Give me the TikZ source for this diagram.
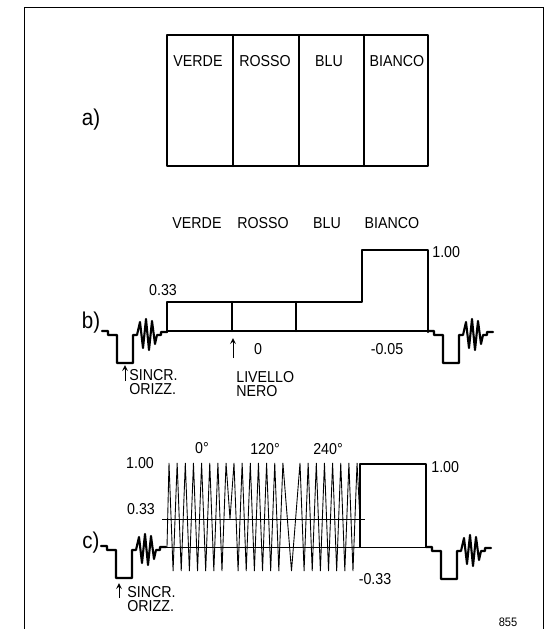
\documentclass[tikz,border=0pt]{standalone}
\usepackage{fontspec}
\setmainfont[FakeStretch=0.9]{Liberation Sans}

\tikzset{
  wave/.style={line width=1.2pt, line join=round, line cap=round},
  hsync/.pic={
    \draw[wave] (0,0) -- (6,0) -- (6,4) -- (15,4) -- (15,32) -- (31,32) -- (31,4) -- (35,4)
      -- (38,-9) -- (41,17) -- (44,-12) -- (47,19) -- (50,-10) -- (53,13) -- (55,4)
      -- (59,4) -- (59,1) -- (65,1);
  }
}

\begin{document}
\begin{tikzpicture}[x=0.02cm, y=-0.02cm, >=stealth,
    lbl/.style={inner sep=0pt, font=\fontsize{9}{8}\selectfont},
    big/.style={inner sep=0pt, font=\fontsize{13}{15}\selectfont},
    fine/.style={line width=0.5pt}]
    \useasboundingbox (0,0) rectangle (555,629);

    % frame
    \draw[fine] (24,629) -- (24,7) -- (543,7) -- (543,629);

    % a)
    \node (n_a) [big] at (91,120) {a)};
    \draw[wave] (167,35) rectangle (428,166);
    \draw[wave] (233,35) -- (233,166);
    \draw[wave] (299,35) -- (299,166);
    \draw[wave] (364,35) -- (364,166);
    \node (n_verde_a) [lbl] at (198,61) {VERDE};
    \node (n_rosso_a) [lbl] at (265,61) {ROSSO};
    \node (n_blu_a) [lbl] at (329,61) {BLU};
    \node (n_bianco_a) [lbl] at (397,61) {BIANCO};

    % b)
    \node (n_b) [big] at (91,323) {b)};
    \node (n_verde_b) [lbl] at (197,223) {VERDE};
    \node (n_rosso_b) [lbl] at (263,223) {ROSSO};
    \node (n_blu_b) [lbl] at (327,223) {BLU};
    \node (n_bianco_b) [lbl] at (392,223) {BIANCO};

    \pic at (102,331) {hsync};
    \draw[wave] (167,332) -- (167,302) -- (362,302) -- (362,250) -- (428,250) -- (428,332);
    \draw[wave] (232,302) -- (232,331);
    \draw[wave] (296,302) -- (296,331);
    \draw[line width=0.8pt] (167,331) -- (428,331);
    \pic at (428,331) {hsync};

    \node (n_033_b) [lbl] at (163,290) {0.33};
    \node (n_100_b) [lbl, anchor=west] at (432,252) {1.00};
    \node (n_zero_b) [lbl] at (258,349) {0};
    \node (n_m005_b) [lbl] at (387,349) {-0.05};
    \node (n_sincr_b) [lbl, anchor=north west, align=left] at (129,369) {SINCR.\\ORIZZ.};
    \node (n_nero_b) [lbl, anchor=north west, align=left] at (236,371) {LIVELLO\\NERO};
    \coordinate (t_sincr_b) at (125,381);
    \coordinate (t_nero_b) at (233,358);
    \draw[->, fine] (t_sincr_b) -- ++(0,-16);
    \draw[->, fine] (t_nero_b) -- ++(0,-20);

    % c)
    \node (n_c) [big] at (91,543) {c)};
    \pic at (101,546) {hsync};
    \draw[fine] (160,547) -- (426,547);
    \draw[fine] (162,519) -- (365,519);
    \draw[fine] (167,547) -- (169,463)
      \foreach \p in {177.15,185.3,...,227} { -- ({\p-4.07},571) -- (\p,463) }
      -- (230,519) -- (234,463)
      \foreach \p in {242.15,250.3,...,284} { -- ({\p-4.07},571) -- (\p,463) }
      -- (291.5,571) -- (300,463)
      \foreach \p in {308.15,316.3,...,358} { -- ({\p-4.07},571) -- (\p,463) }
      -- (360,520);
    \draw[wave] (360,547) -- (360,464) -- (426,464) -- (426,547);
    \pic at (426,547) {hsync};

    \node (n_100_c) [lbl] at (140,463) {1.00};
    \node (n_033_c) [lbl] at (141,509) {0.33};
    \node (n_deg0) [lbl] at (202,448) {0°};
    \node (n_deg120) [lbl] at (265,449) {120°};
    \node (n_deg240) [lbl] at (328,449) {240°};
    \node (n_100r_c) [lbl, anchor=west] at (431,467) {1.00};
    \node (n_m033_c) [lbl] at (375,579) {-0.33};
    \node (n_sincr_c) [lbl, anchor=north west, align=left] at (127,586) {SINCR.\\ORIZZ.};
    \coordinate (t_sincr_c) at (119,598);
    \draw[->, fine] (t_sincr_c) -- ++(0,-15);

    \node (n_num) [inner sep=0pt, font=\fontsize{7}{8}\selectfont] at (508,622) {855};
\end{tikzpicture}
\end{document}
